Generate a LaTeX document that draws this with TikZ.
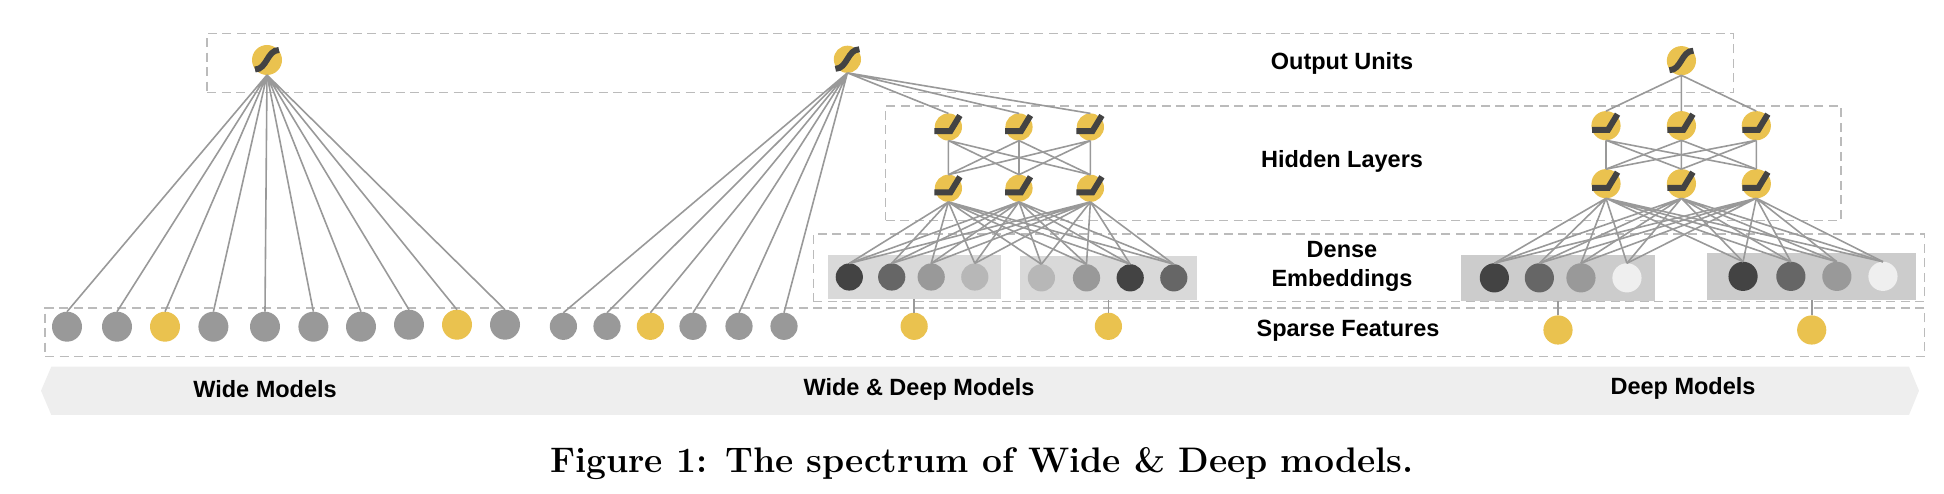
\documentclass[tikz,border=0pt]{standalone}
\usepackage{fontspec}
\usepackage{tikz}
\usetikzlibrary{positioning}
\newfontfamily\labelfont{Liberation Sans}
\definecolor{unitgray}{HTML}{999999}
\definecolor{unityellow}{HTML}{EAC24F}
\definecolor{glyphdark}{HTML}{434343}
\definecolor{tonea}{HTML}{434343}
\definecolor{toneb}{HTML}{666666}
\definecolor{tonec}{HTML}{B7B7B7}
\definecolor{toned}{HTML}{EFEFEF}
\definecolor{layerline}{HTML}{BBBBBB}
\definecolor{barfill}{HTML}{EEEEEE}
\definecolor{panelwd}{HTML}{D9D9D9}
\definecolor{paneldeep}{HTML}{CCCCCC}

\begin{document}
\begin{tikzpicture}[x=1pt, y=1pt,
	feature/.style={circle, inner sep=0pt, outer sep=0pt, minimum size=#1, fill=unitgray},
	active/.style={feature=#1, fill=unityellow},
	layer/.style={draw=layerline, line width=1.5pt, dash pattern=on 9pt off 5.5pt, inner sep=0pt},
	panel/.style={inner sep=0pt, outer sep=0pt},
	wire/.style={draw=unitgray, line width=1.6pt},
	caption/.style={inner sep=0pt, font=\labelfont\bfseries\fontsize{23.5}{29}\selectfont, align=center},
	sigmoid/.pic={\draw [glyphdark, line width=6pt] (-12,-9.5) .. controls (0,-9.5) and (0,10) .. (12,10);},
	relu/.pic={\draw [glyphdark, line width=6pt, miter limit=2] (-14,-4.2) -- (2,-4.2) -- (11.5,11.5);}]
	\useasboundingbox (0,0) rectangle (1944,494);

	\node [layer, minimum width=1526.6pt, minimum height=59.4pt] (outputbox) at (970.3,431) {};
	\node [layer, minimum width=955.4pt, minimum height=114.3pt] (hiddenbox) at (1363.3,330.85) {};
	\node [layer, minimum width=1111pt, minimum height=67.7pt] (densebox) at (1368.8,226.15) {};
	\node [layer, minimum width=1879.6pt, minimum height=48.7pt] (sparsebox) at (984.8,161.65) {};

	\fill [barfill] (41,103.3) -- (51.3,127.3) -- (1909,127.3) -- (1919,103.3) -- (1909,79) -- (51.3,79) -- cycle;

	\node [active=30pt] (o0) at (267,434) {};
	\node [feature=30pt] (w0) at (67,167.3) {};
	\node [feature=30pt, right=20pt of w0] (w1) {};
	\node [active=30pt, right=18pt of w1] (w2) {};
	\node [feature=30pt, right=18.4pt of w2] (w3) {};
	\node [feature=30pt, right=21.6pt of w3] (w4) {};
	\node [feature=30pt, right=18.4pt of w4] (w5) {};
	\node [feature=30pt, right=17.6pt of w5] (w6) {};
	\node [feature=30pt, right=18pt of w6, yshift=2pt] (w7) {};
	\node [active=30pt, right=18pt of w7] (w8) {};
	\node [feature=30pt, right=18pt of w8] (w9) {};

	\node [active=27.2pt] (o1) at (847.4,434.7) {};
	\node [feature=27.2pt] (x0) at (563.4,167.7) {};
	\node [feature=27.2pt, right=16.4pt of x0] (x1) {};
	\node [active=27.2pt, right=16.2pt of x1] (x2) {};
	\node [feature=27.2pt, right=15.4pt of x2] (x3) {};
	\node [feature=27.2pt, right=18.8pt of x3] (x4) {};
	\node [feature=27.2pt, right=17.8pt of x4] (x5) {};
	\node [active=27.2pt] (h0_0) at (948.4,367) {};
	\node [active=27.2pt, right=43.4pt of h0_0] (h1_0) {};
	\node [active=27.2pt, right=44.2pt of h1_0] (h2_0) {};
	\node [active=27.2pt, below=34.1pt of h0_0] (h0_1) {};
	\node [active=27.2pt, below=34.1pt of h1_0] (h1_1) {};
	\node [active=27.2pt, below=34.1pt of h2_0] (h2_1) {};
	\node [active=27.2pt] (s0) at (914.15,167.7) {};
	\node [active=27.2pt] (s1) at (1108.4,167.7) {};
	\node [panel, fill=panelwd, minimum width=173.3pt, minimum height=44pt, above=13.7pt of s0] (r0) {};
	\node [panel, fill=panelwd, minimum width=176.8pt, minimum height=43.7pt, above=13pt of s1] (r1) {};
	\node [feature=27.2pt, fill=tonea, right=8.2pt of r0.west] (e0) {};
	\node [feature=27.2pt, fill=toneb, right=15.2pt of e0] (e1) {};
	\node [feature=27.2pt, right=12.3pt of e1] (e2) {};
	\node [feature=27.2pt, fill=tonec, right=16.4pt of e2] (e3) {};
	\node [feature=27.2pt, fill=tonec, right=7.8pt of r1.west] (e4) {};
	\node [feature=27.2pt, right=17.9pt of e4] (e5) {};
	\node [feature=27.2pt, fill=tonea, right=16.5pt of e5] (e6) {};
	\node [feature=27.2pt, fill=toneb, right=16.4pt of e6] (e7) {};

	\node [active=29.2pt] (o2) at (1681.4,433.3) {};
	\node [active=29.2pt] (k0_0) at (1606,368.3) {};
	\node [active=29.2pt, right=46.2pt of k0_0] (k1_0) {};
	\node [active=29.2pt, right=45.7pt of k1_0] (k2_0) {};
	\node [active=29.2pt, below=28.8pt of k0_0] (k0_1) {};
	\node [active=29.2pt, below=28.8pt of k1_0] (k1_1) {};
	\node [active=29.2pt, below=28.8pt of k2_0] (k2_1) {};
	\node [active=29.2pt] (s2) at (1558,164) {};
	\node [active=29.2pt] (s3) at (1811.7,164) {};
	\node [panel, fill=paneldeep, minimum width=193.5pt, minimum height=46.3pt, above=14.4pt of s2] (r2) {};
	\node [panel, fill=paneldeep, minimum width=208.7pt, minimum height=46.7pt, above=15.7pt of s3] (r3) {};
	\node [feature=29.2pt, fill=tonea, right=18.5pt of r2.west] (d0) {};
	\node [feature=29.2pt, fill=toneb, right=15.8pt of d0] (d1) {};
	\node [feature=29.2pt, right=12.4pt of d1] (d2) {};
	\node [feature=29.2pt, fill=toned, right=16.8pt of d2] (d3) {};
	\node [feature=29.2pt, fill=tonea, right=21.1pt of r3.west] (d4) {};
	\node [feature=29.2pt, fill=toneb, right=18.6pt of d4] (d5) {};
	\node [feature=29.2pt, right=16.8pt of d5] (d6) {};
	\node [feature=29.2pt, fill=toned, right=16.9pt of d6] (d7) {};

	\draw [wire] (o0.south) -- (w0.north) (o0.south) -- (w1.north) (o0.south) -- (w2.north) (o0.south) -- (w3.north) (o0.south) -- (w4.north);
	\draw [wire] (o0.south) -- (w5.north) (o0.south) -- (w6.north) (o0.south) -- (w7.north) (o0.south) -- (w8.north) (o0.south) -- (w9.north);

	\draw [wire] (o1.south) -- (x0.north) (o1.south) -- (x1.north) (o1.south) -- (x2.north) (o1.south) -- (x3.north) (o1.south) -- (x4.north) (o1.south) -- (x5.north);
	\draw [wire] (o1.south) -- (h0_0.north) (o1.south) -- (h1_0.north) (o1.south) -- (h2_0.north);
	\draw [wire] (h0_0.south) -- (h0_1.north) (h0_0.south) -- (h1_1.north) (h0_0.south) -- (h2_1.north);
	\draw [wire] (h1_0.south) -- (h0_1.north) (h1_0.south) -- (h1_1.north) (h1_0.south) -- (h2_1.north);
	\draw [wire] (h2_0.south) -- (h0_1.north) (h2_0.south) -- (h1_1.north) (h2_0.south) -- (h2_1.north);
	\draw [wire] (h0_1.south) -- (e0.north) (h0_1.south) -- (e1.north) (h0_1.south) -- (e2.north) (h0_1.south) -- (e3.north);
	\draw [wire] (h0_1.south) -- (e4.north) (h0_1.south) -- (e5.north) (h0_1.south) -- (e6.north) (h0_1.south) -- (e7.north);
	\draw [wire] (h1_1.south) -- (e0.north) (h1_1.south) -- (e1.north) (h1_1.south) -- (e2.north) (h1_1.south) -- (e3.north);
	\draw [wire] (h1_1.south) -- (e4.north) (h1_1.south) -- (e5.north) (h1_1.south) -- (e6.north) (h1_1.south) -- (e7.north);
	\draw [wire] (h2_1.south) -- (e0.north) (h2_1.south) -- (e1.north) (h2_1.south) -- (e2.north) (h2_1.south) -- (e3.north);
	\draw [wire] (h2_1.south) -- (e4.north) (h2_1.south) -- (e5.north) (h2_1.south) -- (e6.north) (h2_1.south) -- (e7.north);
	\draw [wire] (s0.north) -- (r0.south);
	\draw [wire] (s1.north) -- (r1.south);

	\draw [wire] (o2.south) -- (k0_0.north) (o2.south) -- (k1_0.north) (o2.south) -- (k2_0.north);
	\draw [wire] (k0_0.south) -- (k0_1.north) (k0_0.south) -- (k1_1.north) (k0_0.south) -- (k2_1.north);
	\draw [wire] (k1_0.south) -- (k0_1.north) (k1_0.south) -- (k1_1.north) (k1_0.south) -- (k2_1.north);
	\draw [wire] (k2_0.south) -- (k0_1.north) (k2_0.south) -- (k1_1.north) (k2_0.south) -- (k2_1.north);
	\draw [wire] (k0_1.south) -- (d0.north) (k0_1.south) -- (d1.north) (k0_1.south) -- (d2.north) (k0_1.south) -- (d3.north);
	\draw [wire] (k0_1.south) -- (d4.north) (k0_1.south) -- (d5.north) (k0_1.south) -- (d6.north) (k0_1.south) -- (d7.north);
	\draw [wire] (k1_1.south) -- (d0.north) (k1_1.south) -- (d1.north) (k1_1.south) -- (d2.north) (k1_1.south) -- (d3.north);
	\draw [wire] (k1_1.south) -- (d4.north) (k1_1.south) -- (d5.north) (k1_1.south) -- (d6.north) (k1_1.south) -- (d7.north);
	\draw [wire] (k2_1.south) -- (d0.north) (k2_1.south) -- (d1.north) (k2_1.south) -- (d2.north) (k2_1.south) -- (d3.north);
	\draw [wire] (k2_1.south) -- (d4.north) (k2_1.south) -- (d5.north) (k2_1.south) -- (d6.north) (k2_1.south) -- (d7.north);
	\draw [wire] (s2.north) -- (r2.south);
	\draw [wire] (s3.north) -- (r3.south);

	\pic at (o0) {sigmoid};
	\pic at (o1) {sigmoid};
	\pic at (o2) {sigmoid};
	\pic at (h0_0) {relu};
	\pic at (h1_0) {relu};
	\pic at (h2_0) {relu};
	\pic at (h0_1) {relu};
	\pic at (h1_1) {relu};
	\pic at (h2_1) {relu};
	\pic at (k0_0) {relu};
	\pic at (k1_0) {relu};
	\pic at (k2_0) {relu};
	\pic at (k0_1) {relu};
	\pic at (k1_1) {relu};
	\pic at (k2_1) {relu};

	\node [caption] (outputlabel) at (1342,431) {Output Units};
	\node [caption] (hiddenlabel) at (1342,332.5) {Hidden Layers};
	\node [caption] (denselabel) at (1342,227.5) {Dense\\Embeddings};
	\node [caption] (sparselabel) at (1348,163.5) {Sparse Features};
	\node [caption] (widelabel) at (265,105) {Wide Models};
	\node [caption] (wdlabel) at (919,105) {Wide \& Deep Models};
	\node [caption] (deeplabel) at (1683,106) {Deep Models};
	\node [inner sep=0pt, font=\bfseries\fontsize{35.5}{40}\selectfont] (figcaption) at (982,30) {Figure 1: The spectrum of Wide \& Deep models.};
\end{tikzpicture}
\end{document}
